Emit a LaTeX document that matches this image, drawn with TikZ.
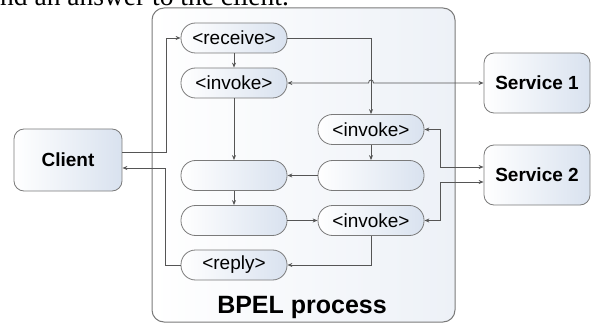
\documentclass[tikz,border=0pt]{standalone}
\usepackage{fontspec}
\setmainfont{Liberation Sans}
\newfontfamily\serifTNR{Liberation Serif}
\usetikzlibrary{arrows.meta}
\definecolor{linegray}{HTML}{555555}
\definecolor{bordergray}{HTML}{7A7A7A}
\definecolor{nodeblue}{HTML}{D9E2EF}
\definecolor{boxblue}{HTML}{EDF1F7}
\tikzset{
  conn/.style={draw=linegray, line width=0.8pt, -{Stealth[length=5pt,width=4pt]}},
  conn2/.style={draw=linegray, line width=0.8pt, {Stealth[length=5pt,width=4pt]}-{Stealth[length=5pt,width=4pt]}},
  activity/.style={draw=bordergray, line width=0.8pt, rectangle, rounded corners=14.5pt,
    minimum width=106pt, minimum height=30pt, inner sep=0pt,
    left color=white, right color=nodeblue, font=\fontsize{19}{22}\selectfont},
  partner/.style={draw=bordergray, line width=0.8pt, rectangle, rounded corners=10pt,
    minimum width=106pt, minimum height=60pt, inner sep=0pt,
    left color=white, right color=nodeblue, font=\bfseries\fontsize{19}{22}\selectfont},
  process/.style={draw=bordergray, line width=1pt, rectangle, rounded corners=12pt,
    minimum width=303pt, minimum height=314pt, inner sep=0pt,
    left color=white, right color=boxblue}
}
\begin{document}
\begin{tikzpicture}[x=1pt,y=-1pt]
\useasboundingbox (0,0) rectangle (591,323);
\begin{scope}
\clip (0,0) rectangle (591,323);
\node[anchor=base west, inner sep=0pt, font=\serifTNR\fontsize{27.5}{30}\selectfont] (toptext) at (0,6) {nd an answer to the client.};
\end{scope}
% process box
\node[process] (bpel) at (303.5,165) {};
\node[anchor=base, inner sep=0pt, font=\bfseries\fontsize{25}{28}\selectfont] (bpeltitle) at (302,313) {BPEL process};
% partners
\node[partner, minimum width=108pt, minimum height=62pt] (client) at (68,160) {Client};
\node[partner] (s1) at (537,83) {Service 1};
\node[partner] (s2) at (537,175) {Service 2};
% activities
\node[activity] (rec) at (234,38) {<receive>};
\node[activity] (inv1) at (234,83) {<invoke>};
\node[activity] (b1) at (234,175.5) {};
\node[activity] (b2) at (234,220.5) {};
\node[activity] (rep) at (234,265) {<reply>};
\node[activity] (inv2) at (371,129.5) {<invoke>};
\node[activity] (br) at (371,175.5) {};
\node[activity] (inv3) at (371,220.5) {<invoke>};
% connectors
\draw[conn] ([yshift=8pt]client.east) -- ++(44,0) |- (rec.west);
\draw[conn] (rep.west) -- ++(-15,0) |- ([yshift=-8pt]client.east);
\draw[conn] (rec.south) -- (inv1.north);
\draw[conn] (inv1.south) -- (b1.north);
\draw[conn] (b1.south) -- (b2.north);
\draw[conn] (rec.east) -| (inv2.north);
\draw[conn2] (inv1.east) -- (368.5,83) .. controls (368.5,79) and (373.5,79) .. (373.5,83) -- (s1.west);
\draw[conn] (inv2.south) -- (br.north);
\draw[conn] (br.west) -- (b1.east);
\draw[conn] (b2.east) -- (inv3.west);
\draw[conn] (inv3.south) |- (rep.east);
\draw[conn2] (inv2.east) -- ++(16,0) |- ([yshift=8pt]s2.west);
\draw[conn2] (inv3.east) -- ++(16,0) |- ([yshift=-7pt]s2.west);
\end{tikzpicture}
\end{document}
